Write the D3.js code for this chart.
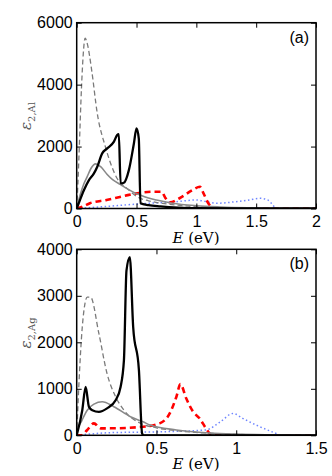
<!DOCTYPE html>
<html>
<head>
<meta charset="utf-8">
<script src="https://cdn.jsdelivr.net/npm/d3@7"></script>
<style>
  body { margin: 0; background: #fff; }
  svg { display: block; }
</style>
</head>
<body>
<svg id="chart" width="332" height="476"></svg>
<script>
// panel (a) : Al, values as [E, eps2]
var alBlack = [[0,0],[0.02,200],[0.061,600],[0.1,900],[0.144,1135],[0.172,1350],[0.213,1780],[0.255,1940],[0.31,2150],[0.338,2370],[0.352,2400],[0.367,810],[0.394,830],[0.436,1240],[0.478,2100],[0.5,2590],[0.519,2260],[0.533,170],[0.6,110],[0.7,70],[0.85,30],[1.0,10],[1.5,0],[2,0]];
var alGraySolid = [[0,0],[0.03,450],[0.06,800],[0.088,1030],[0.12,1300],[0.158,1440],[0.2,1350],[0.255,1100],[0.3,930],[0.367,770],[0.42,640],[0.478,520],[0.53,435],[0.6,340],[0.667,275],[0.8,170],[1.0,90],[1.2,50],[1.5,20],[1.7,5],[2,0]];
var alGrayDash = [[0,0],[0.01,800],[0.02,1800],[0.04,3900],[0.055,5000],[0.07,5500],[0.09,5300],[0.125,4470],[0.172,3070],[0.24,1990],[0.283,1460],[0.338,970],[0.42,650],[0.505,380],[0.6,250],[0.75,150],[1.0,60],[1.3,20],[1.7,0],[2,0]];
var alRed = [[0,0],[0.05,60],[0.11,170],[0.25,275],[0.39,400],[0.53,510],[0.64,540],[0.71,540],[0.74,350],[0.78,200],[0.86,330],[0.97,600],[1.03,700],[1.06,490],[1.1,170],[1.15,0],[2,0]];
var alBlue = [[0,0],[0.19,50],[0.53,150],[0.75,200],[0.83,220],[1.0,275],[1.07,230],[1.17,170],[1.33,220],[1.44,275],[1.53,330],[1.6,270],[1.64,110],[1.67,0],[2,0]];

// panel (b) : Ag
var agBlack = [[0,0],[0.035,540],[0.056,1040],[0.077,610],[0.098,540],[0.139,505],[0.19,580],[0.244,755],[0.275,1040],[0.296,1610],[0.312,3540],[0.333,3830],[0.354,2330],[0.39,1400],[0.41,40],[0.42,0],[1.5,0]];
var agGraySolid = [[0,0],[0.004,110],[0.03,300],[0.066,540],[0.108,670],[0.16,720],[0.233,615],[0.337,400],[0.416,290],[0.46,220],[0.625,115],[0.83,50],[1.0,25],[1.2,10],[1.5,0]];
var agGrayDash = [[0,0],[0.014,1110],[0.035,2330],[0.066,2970],[0.087,2970],[0.139,2190],[0.19,1330],[0.244,830],[0.296,540],[0.4,257],[0.5,160],[0.625,100],[0.8,50],[1.0,20],[1.2,5],[1.5,0]];
var agRed = [[0,0],[0.03,0],[0.066,115],[0.108,257],[0.15,150],[0.208,150],[0.416,185],[0.52,257],[0.583,470],[0.625,830],[0.65,1100],[0.687,790],[0.73,505],[0.77,365],[0.81,150],[0.833,40],[0.85,0],[1.5,0]];
var agBlue = [[0,0],[0.2,55],[0.52,75],[0.81,115],[0.9,290],[0.98,470],[1.04,365],[1.125,220],[1.25,40],[1.28,0],[1.5,0]];

var alXTicks = [0, 0.5, 1, 1.5, 2];
var alYTicks = [0, 2000, 4000, 6000];
var agXTicks = [0, 0.5, 1, 1.5];
var agYTicks = [0, 1000, 2000, 3000, 4000];

var svg = d3.select("#chart");

// line styles, drawn in this order
var styles = [
  { key: "blue",  color: "#6f86ff", width: 1.5, dash: "1.5,2.5" },
  { key: "red",   color: "#ff0000", width: 2.6, dash: "6,4" },
  { key: "gdash", color: "#7a7a7a", width: 1.3, dash: "5,3" },
  { key: "gray",  color: "#888888", width: 1.6, dash: null },
  { key: "black", color: "#000000", width: 2.3, dash: null }
];

function drawPanel(p) {
  var x = d3.scaleLinear().domain([0, p.xMax]).range([76.7, 316]);
  var y = d3.scaleLinear().domain([0, p.yMax]).range([p.bottom, p.top]);
  var g = svg.append("g");

  var line = d3.line()
    .x(function(d) { return x(d[0]); })
    .y(function(d) { return y(d[1]); })
    .curve(d3.curveMonotoneX);

  g.append("clipPath").attr("id", "clip" + p.id)
    .append("rect").attr("x", 76.7).attr("y", p.top)
    .attr("width", 316 - 76.7).attr("height", p.bottom - p.top);

  var lines = g.append("g").attr("clip-path", "url(#clip" + p.id + ")");
  styles.forEach(function(s) {
    lines.append("path")
      .datum(p.series[s.key])
      .attr("fill", "none")
      .attr("stroke", s.color)
      .attr("stroke-width", s.width)
      .attr("stroke-dasharray", s.dash)
      .attr("stroke-linejoin", "round")
      .attr("d", line);
  });

  // axes with inward ticks on all sides
  var fontCss = "16px 'Liberation Sans', Arial, sans-serif";
  var bottomAx = g.append("g").attr("transform", "translate(0," + p.bottom + ")")
    .call(d3.axisBottom(x).tickValues(p.xTicks).tickSizeInner(-5).tickSizeOuter(0).tickPadding(7)
      .tickFormat(d3.format("")));
  var leftAx = g.append("g").attr("transform", "translate(76.7,0)")
    .call(d3.axisLeft(y).tickValues(p.yTicks).tickSizeInner(-5).tickSizeOuter(0).tickPadding(4)
      .tickFormat(d3.format("d")));
  var topAx = g.append("g").attr("transform", "translate(0," + p.top + ")")
    .call(d3.axisTop(x).tickValues(p.xTicks).tickSizeInner(-5).tickSizeOuter(0).tickFormat(""));
  var rightAx = g.append("g").attr("transform", "translate(316,0)")
    .call(d3.axisRight(y).tickValues(p.yTicks).tickSizeInner(-5).tickSizeOuter(0).tickFormat(""));
  [bottomAx, leftAx, topAx, rightAx].forEach(function(a) {
    a.select(".domain").remove();
    a.selectAll("line").attr("stroke", "#000").attr("stroke-width", 1);
    a.selectAll("text").style("font", fontCss).attr("fill", "#000");
  });

  g.append("rect")
    .attr("x", 76.7).attr("y", p.top)
    .attr("width", 316 - 76.7).attr("height", p.bottom - p.top)
    .attr("fill", "none").attr("stroke", "#000").attr("stroke-width", 1.5);

  // panel tag
  g.append("text")
    .attr("x", 309).attr("y", p.top + 20)
    .attr("text-anchor", "end")
    .style("font", fontCss)
    .text(p.tag);

  // x label
  var xl = g.append("text")
    .attr("x", 196).attr("y", p.xLabelY)
    .attr("text-anchor", "middle")
    .style("font", "15px 'DejaVu Serif', 'Liberation Serif', serif");
  xl.append("tspan").style("font-style", "italic").text("E");
  xl.append("tspan").text(" (eV)");

  // y label
  var yl = g.append("text")
    .attr("transform", "translate(31," + p.yLabelY + ") rotate(-90)")
    .attr("text-anchor", "middle")
    .attr("fill", "#555")
    .style("font", "15px 'DejaVu Serif', 'Liberation Serif', serif");
  yl.append("tspan").style("font-style", "italic").text("ε");
  yl.append("tspan").attr("dy", 4).style("font-size", "10px").text(p.sub);
}

drawPanel({
  id: "a", tag: "(a)", sub: "2,Al",
  xMax: 2, yMax: 6000, top: 22.7, bottom: 208.5,
  xTicks: alXTicks, yTicks: alYTicks,
  xLabelY: 243, yLabelY: 116,
  series: { black: alBlack, gray: alGraySolid, gdash: alGrayDash, red: alRed, blue: alBlue }
});

drawPanel({
  id: "b", tag: "(b)", sub: "2,Ag",
  xMax: 1.5, yMax: 4000, top: 249.3, bottom: 435.3,
  xTicks: agXTicks, yTicks: agYTicks,
  xLabelY: 469, yLabelY: 333,
  series: { black: agBlack, gray: agGraySolid, gdash: agGrayDash, red: agRed, blue: agBlue }
});
</script>
</body>
</html>
